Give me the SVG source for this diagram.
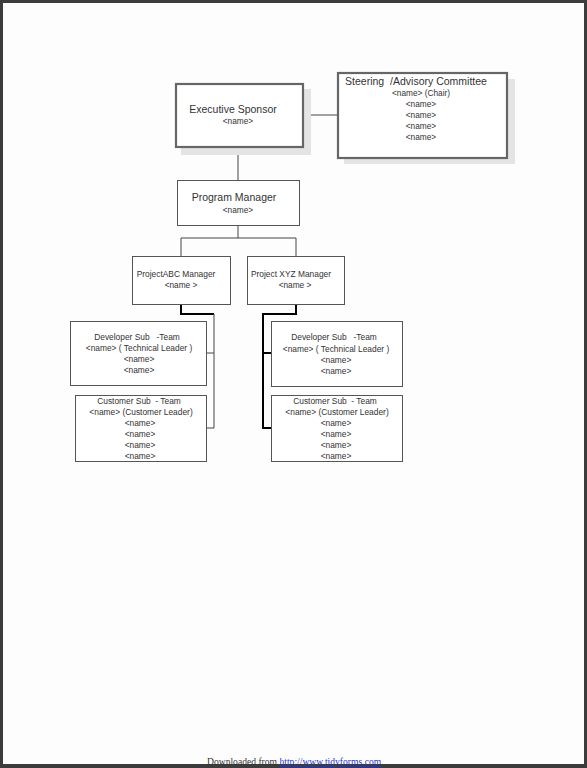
<svg xmlns="http://www.w3.org/2000/svg" width="587" height="768" viewBox="0 0 587 768">
<style>
text{font-family:"Liberation Sans",Arial,sans-serif;fill:#333;text-anchor:middle;white-space:pre}
.t{font-size:10.5px}
.n{font-size:8.3px}
.s{font-size:8.4px}
.box{fill:#fff;stroke:#555;stroke-width:1}
.big{fill:#fff;stroke:#666;stroke-width:2.2}
.sh{fill:#e4e4e4}
.c{fill:none;stroke:#444;stroke-width:1}
.k{fill:none;stroke:#000;stroke-width:2}
</style>
<rect x="0" y="0" width="587" height="768" fill="#3c3c3c"/>
<rect x="3" y="3" width="581" height="761" fill="#fdfdfd"/>
<g id="connectors">
<path class="c" d="M303 115H337"/>
<path class="c" d="M238 147V180"/>
<path class="c" d="M238 226V238M181 256V238H296V256"/>
<path class="k" d="M181 304V314H214"/>
<path class="c" d="M214 314V428H207M214 353H207"/>
<path class="k" d="M296 304V314H263V428H272M263 353H272"/>
</g>
<g id="exec">
<rect class="sh" x="181" y="89" width="130" height="66"/>
<rect class="big" x="176" y="84" width="127" height="63"/>
<text class="t" x="233" y="113">Executive Sponsor</text>
<text class="n" x="238" y="124">&lt;name&gt;</text>
</g>
<g id="steering">
<rect class="sh" x="344" y="79" width="171" height="85"/>
<rect class="big" x="338" y="73" width="169" height="85"/>
<text class="t" x="416" y="85">Steering  /Advisory Committee</text>
<text class="n" x="421" y="96">&lt;name&gt; (Chair)</text>
<text class="n" x="421" y="107">&lt;name&gt;</text>
<text class="n" x="421" y="118">&lt;name&gt;</text>
<text class="n" x="421" y="129">&lt;name&gt;</text>
<text class="n" x="421" y="140">&lt;name&gt;</text>
</g>
<g id="program">
<rect class="box" x="177.5" y="180.5" width="122" height="45"/>
<text class="t" x="234" y="201">Program Manager</text>
<text class="n" x="238" y="213">&lt;name&gt;</text>
</g>
<g id="abc">
<rect class="box" x="132.5" y="256.5" width="98" height="48"/>
<text class="s" x="176" y="277">ProjectABC Manager</text>
<text class="n" x="181" y="288">&lt;name &gt;</text>
</g>
<g id="xyz">
<rect class="box" x="247.5" y="256.5" width="97" height="48"/>
<text class="s" x="291" y="277">Project XYZ Manager</text>
<text class="n" x="295" y="288">&lt;name &gt;</text>
</g>
<g id="dev-left">
<rect class="box" x="70.5" y="321.5" width="136" height="64"/>
<text class="s" x="137" y="340">Developer Sub   -Team</text>
<text class="s" x="139" y="351">&lt;name&gt; ( Technical Leader )</text>
<text class="s" x="139" y="362">&lt;name&gt;</text>
<text class="s" x="139" y="373">&lt;name&gt;</text>
</g>
<g id="cust-left">
<rect class="box" x="75.5" y="395.5" width="131" height="66"/>
<text class="s" x="139" y="404">Customer Sub  - Team</text>
<text class="s" x="141" y="415">&lt;name&gt; (Customer Leader)</text>
<text class="s" x="140" y="426">&lt;name&gt;</text>
<text class="s" x="140" y="437">&lt;name&gt;</text>
<text class="s" x="140" y="448">&lt;name&gt;</text>
<text class="s" x="140" y="459">&lt;name&gt;</text>
</g>
<g id="dev-right">
<rect class="box" x="271.5" y="321.5" width="131" height="65"/>
<text class="s" x="334" y="340">Developer Sub   -Team</text>
<text class="s" x="336" y="352">&lt;name&gt; ( Technical Leader )</text>
<text class="s" x="336" y="363">&lt;name&gt;</text>
<text class="s" x="336" y="374">&lt;name&gt;</text>
</g>
<g id="cust-right">
<rect class="box" x="271.5" y="395.5" width="131" height="66"/>
<text class="s" x="335" y="404">Customer Sub  - Team</text>
<text class="s" x="337" y="415">&lt;name&gt; (Customer Leader)</text>
<text class="s" x="336" y="426">&lt;name&gt;</text>
<text class="s" x="336" y="437">&lt;name&gt;</text>
<text class="s" x="336" y="448">&lt;name&gt;</text>
<text class="s" x="336" y="459">&lt;name&gt;</text>
</g>
<text x="207" y="765" style="font-family:'Liberation Serif','Times New Roman',serif;font-size:9.6px;text-anchor:start;fill:#333">Downloaded from <tspan fill="#2233cc" text-decoration="underline">http://www.tidyforms.com</tspan></text>
</svg>
